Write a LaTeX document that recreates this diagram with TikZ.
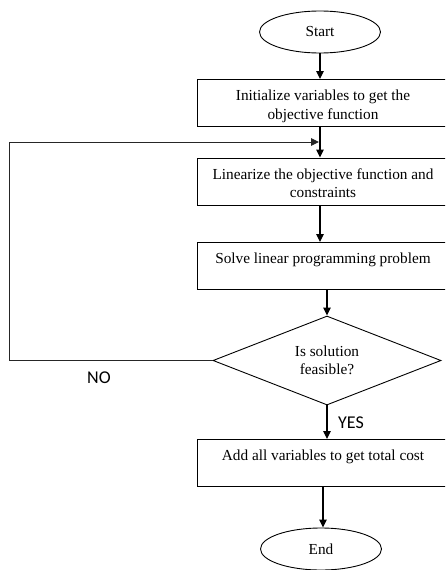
\documentclass[tikz,border=0pt]{standalone}
\usepackage{fontspec}
\setmainfont{Liberation Serif}
\newfontfamily\labelfont{Carlito}
\usetikzlibrary{shapes.geometric,arrows.meta}
\begin{document}
\begin{tikzpicture}[x=1pt,y=-1pt,
  every node/.style={font=\fontsize{15.3}{18.5}\selectfont},
  procbox/.style={draw,line width=1pt,rectangle,minimum width=252pt,minimum height=47pt,
    inner xsep=0pt,inner ysep=0pt,text height=21pt,text depth=26pt,align=center},
  procboxtwo/.style={procbox,text height=39.5pt,text depth=7.5pt},
  termbox/.style={draw,line width=0.9pt,ellipse,minimum width=121pt,minimum height=42pt,inner sep=0pt},
  decbox/.style={draw,line width=0.9pt,diamond,shape aspect=2.56,minimum width=228pt,minimum height=89pt,inner sep=0pt,align=center},
  arr/.style={line width=1.2pt,-{Triangle[length=8pt,width=7.5pt]}},
  loopline/.style={line width=0.9pt,draw=black!85,-{Triangle[length=8pt,width=7.5pt]}},
  lab/.style={font=\labelfont\fontsize{18}{20}\selectfont}]
\useasboundingbox (0,0) rectangle (445,570);
\clip (0,0) rectangle (445,570);
\node[termbox] (start) at (320,32) {Start};
\node[procboxtwo] (box1) at (323,103) {Initialize variables to get the\\objective function};
\node[procboxtwo] (box2) at (323,181.5) {Linearize the objective function and\\constraints};
\node[procbox] (box3) at (323,266) {Solve linear programming problem};
\node[decbox] (dia) at (327,360.5) {Is solution\\feasible?};
\node[procbox] (box4) at (323,463) {Add all variables to get total cost};
\node[termbox] (end) at (321,549) {End};
\coordinate (corner) at (9,0);
\coordinate (loopend) at (319,142);
\node[lab] (no) at (99,378) {NO};
\node[lab] (yes) at (351,423) {YES};
\draw[arr] (start.south) -- (start.south |- box1.north);
\draw[arr] (box1.south -| start.south) -- (box2.north -| start.south);
\draw[arr] (box2.south -| start.south) -- (box3.north -| start.south);
\draw[arr] (box3.south -| dia.north) -- (dia.north);
\draw[arr] (dia.south) -- (dia.south |- box4.north);
\draw[arr] (box4.south) -- (box4.south |- end.north);
\draw[loopline] (dia.west) -- (dia.west -| corner) |- (loopend);
\end{tikzpicture}
\end{document}
